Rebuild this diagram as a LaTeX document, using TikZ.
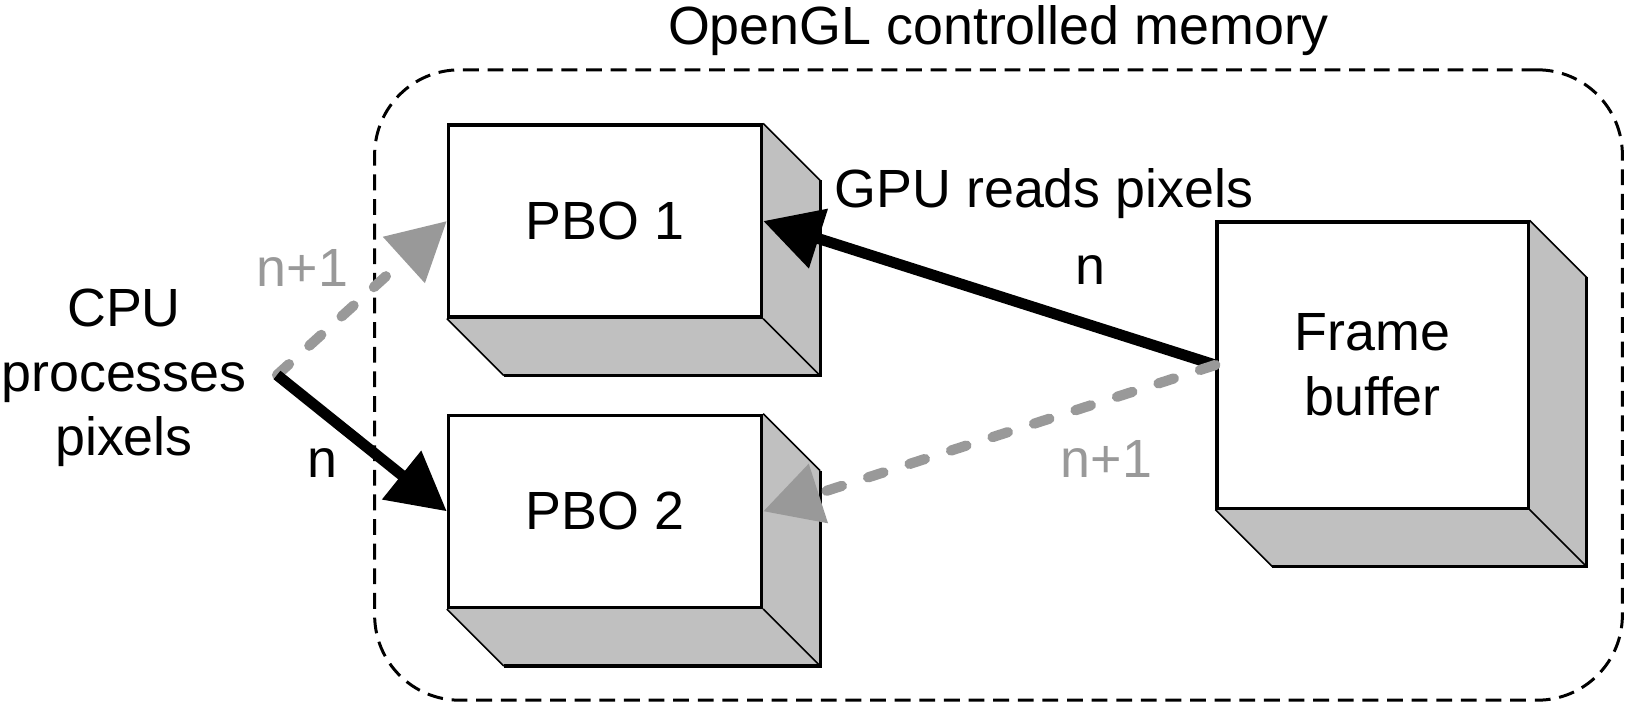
\documentclass[tikz,border=0pt]{standalone}
\usepackage{fontspec}
\setmainfont{Liberation Sans}
\usetikzlibrary{arrows.meta,positioning,backgrounds}

\definecolor{sidegray}{RGB}{192,192,192}
\definecolor{arrowgray}{RGB}{153,153,153}

\begin{document}
\begin{tikzpicture}[x=0.01cm,y=-0.01cm,>={Triangle[length=16.5pt,width=17pt]},
        font=\fontsize{15.3}{18.35}\selectfont,
        slab/.style={draw,fill=white,line width=0.9pt,minimum width=3.13cm,
                     minimum height=1.92cm,inner sep=0pt},
        memregion/.style={draw,line width=0.85pt,dash pattern=on 4.5pt off 2.5pt,
                          rounded corners=0.85cm,minimum width=12.47cm,minimum height=6.3cm},
        curframe/.style={->,line width=3.1pt},
        nextframe/.style={->,color=arrowgray,line width=2.9pt,
                          dash pattern=on 4.6pt off 7.8pt,line cap=round}]

    \useasboundingbox (0,0) rectangle (1625,706);

    \node[memregion] (mem) at (998.5,385) {};
    \node[inner sep=0pt] (title) [above=1.2mm of mem] {OpenGL controlled memory};

    \node[slab] (pbo1) at (605,221) {PBO 1};
    \node[slab] (pbo2) [below=0.95cm of pbo1] {PBO 2};
    \node[slab,minimum width=3.11cm,minimum height=2.86cm,align=center] (fb)
        at (1372.5,365) {Frame\\buffer};

    % depth of the boxes
    \begin{scope}[on background layer]
        \foreach \b in {pbo1,pbo2,fb} {
            \fill[sidegray] (\b.north east) -- ++(57,57)
                -- ([shift={(57,57)}]\b.south east) -- ([shift={(57,57)}]\b.south west)
                -- (\b.south west) -- cycle;
            \draw[line width=0.45pt] (\b.north east) -- ++(57,57)
                (\b.south east) -- ++(57,57) (\b.south west) -- ++(57,57);
            \draw[line width=0.9pt] ([shift={(57,57)}]\b.north east)
                -- ([shift={(57,57)}]\b.south east) -- ([shift={(57,57)}]\b.south west);
        }
    \end{scope}

    \node[align=center] (cpu) at (124,378) {CPU\\processes\\pixels};
    \coordinate (cpuout) at (277,375);
    \node (gpu) at (1044,194) {GPU reads pixels};

    \draw[nextframe] (cpuout) -- (pbo1.west)
        node[pos=0.3,xshift=-0.255cm,yshift=0.61cm] {n+1};
    \draw[curframe] (cpuout) -- (pbo2.west)
        node[pos=0.3,xshift=-0.055cm,yshift=-0.474cm] {n};
    \draw[curframe] (fb.west) -- (pbo1.east)
        node[pos=0.3,xshift=0.106cm,yshift=0.518cm] {n};
    \draw[nextframe] (fb.west) -- (pbo2.east)
        node[pos=0.25,xshift=0.04cm,yshift=-0.574cm] {n+1};
\end{tikzpicture}
\end{document}
